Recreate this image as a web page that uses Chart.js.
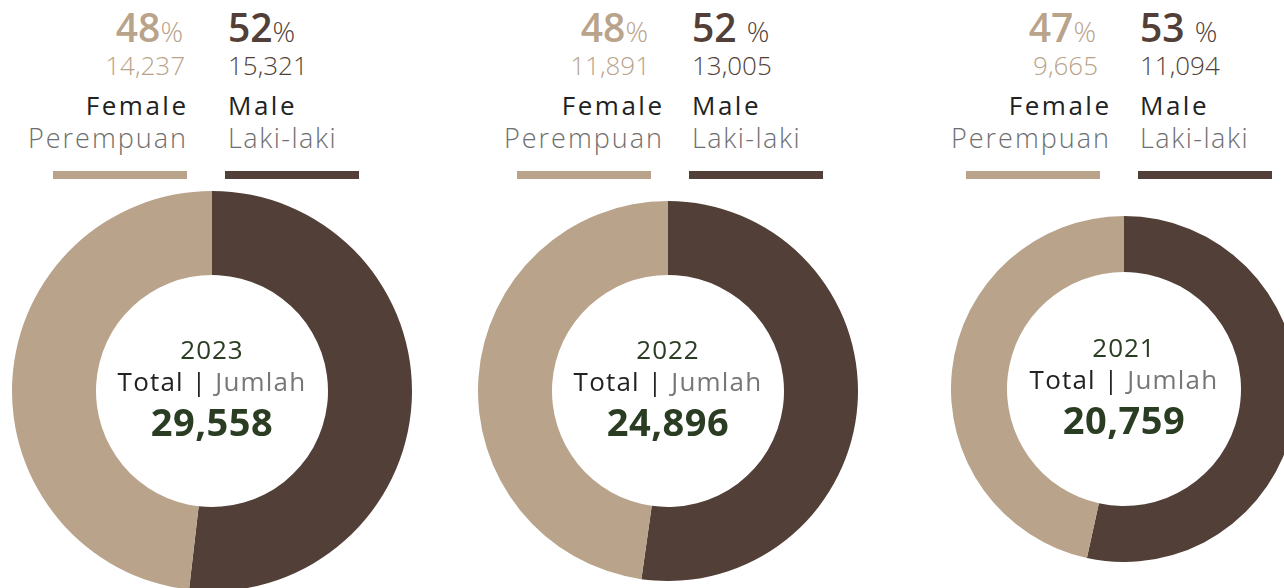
<!DOCTYPE html>
<html>
<head>
<meta charset="utf-8">
<script src="https://cdn.jsdelivr.net/npm/chart.js@4.4.1/dist/chart.umd.min.js"></script>
<style>
    html, body { margin: 0; padding: 0; background: #fff; }
    body { width: 1284px; height: 588px; overflow: hidden; position: relative; font-family: "Open Sans", sans-serif; }
    .t { position: absolute; white-space: nowrap; line-height: 1; }
    .key { position: absolute; height: 8px; }
    canvas { position: absolute; }
</style>
</head>
<body>
<script>
    'use strict';

    // data
    const years = ['2023', '2022', '2021'];
    const labels = ['Male', 'Female'];
    const maleCounts = [15321, 13005, 11094];
    const femaleCounts = [14237, 11891, 9665];
    const malePct = [52, 52, 53];
    const femalePct = [48, 48, 47];
    const malePctGap = ['', ' ', ' '];
    const totals = [29558, 24896, 20759];

    const MALE = '#523f37';
    const FEMALE = '#b9a38b';
    const GREEN = '#2a3d22';

    // layout of the three panels (pixels)
    const panels = [
        { cx: 212, cy: 391, r: 200, hole: 116, numRight: 183, lblRight: 186, maleLeft: 228, femKey: 53, maleKey: 225 },
        { cx: 668, cy: 391, r: 190, hole: 116, numRight: 648, lblRight: 662, maleLeft: 692, femKey: 517, maleKey: 689 },
        { cx: 1124, cy: 389, r: 173, hole: 117, numRight: 1096, lblRight: 1109, maleLeft: 1140, femKey: 966, maleKey: 1138 }
    ];

    function fmt(n) {
        return n.toString().replace(/\B(?=(\d{3})+(?!\d))/g, ',');
    }

    // places a line of text by its baseline
    function addText(html, baseline, size, opts) {
        const el = document.createElement('div');
        const ls = opts.ls || 0;
        el.className = 't';
        el.innerHTML = html;
        el.style.fontSize = size + 'px';
        el.style.top = (baseline - size * 0.888) + 'px';
        el.style.color = opts.color || '#222';
        el.style.fontWeight = opts.weight || 400;
        el.style.letterSpacing = ls + 'px';
        if (opts.right != null) {
            el.style.right = (1284 - opts.right - ls) + 'px';
            el.style.textAlign = 'right';
        } else {
            el.style.left = opts.left + 'px';
        }
        document.body.appendChild(el);
    }

    function addKey(left, color) {
        const el = document.createElement('div');
        el.className = 'key';
        el.style.left = left + 'px';
        el.style.top = '171px';
        el.style.width = '134px';
        el.style.background = color;
        document.body.appendChild(el);
    }

    const centerText = {
        id: 'centerText',
        afterDraw(chart, args, o) {
            const arc = chart.getDatasetMeta(0).data[0];
            if (!arc) return;
            const ctx = chart.ctx;
            const x = arc.x, y = arc.y;
            ctx.save();
            ctx.textBaseline = 'alphabetic';
            ctx.textAlign = 'center';

            ctx.letterSpacing = '1px';
            ctx.font = '400 26px "Open Sans"';
            ctx.fillStyle = GREEN;
            ctx.fillText(o.year, x, y - 32);

            const a = 'Total | ';
            const b = 'Jumlah';
            ctx.letterSpacing = '1.2px';
            ctx.font = '400 26px "Open Sans"';
            const wa = ctx.measureText(a).width;
            const wb = ctx.measureText(b).width;
            const sx = x - (wa + wb) / 2;
            ctx.textAlign = 'left';
            ctx.fillStyle = '#222';
            ctx.fillText(a, sx, y);
            ctx.fillStyle = '#777';
            ctx.fillText(b, sx + wa, y);

            ctx.textAlign = 'center';
            ctx.letterSpacing = '0.5px';
            ctx.font = '700 38px "Open Sans"';
            ctx.fillStyle = GREEN;
            ctx.fillText(o.total, x, y + 45);
            ctx.restore();
        }
    };

    panels.forEach(function(p, i) {
        // header
        const pctSpan = '<span style="font-size:28px;font-weight:300">%</span>';
        addText(femalePct[i] + pctSpan, 42, 39, { right: p.numRight, color: FEMALE, weight: 600 });
        addText(malePct[i] + malePctGap[i] + pctSpan, 42, 39, { left: p.maleLeft, color: MALE, weight: 600 });
        addText(fmt(femaleCounts[i]), 75, 26, { right: p.numRight + 2, color: FEMALE, weight: 300 });
        addText(fmt(maleCounts[i]), 75, 26, { left: p.maleLeft, color: MALE, weight: 300 });
        addText('Female', 115, 26, { right: p.lblRight, color: '#222', weight: 400, ls: 2.5 });
        addText('Male', 115, 26, { left: p.maleLeft, color: '#222', weight: 400, ls: 2.5 });
        addText('Perempuan', 148, 27, { right: p.lblRight, color: '#6e6e6e', weight: 300, ls: 2 });
        addText('Laki-laki', 148, 27, { left: p.maleLeft, color: '#6e6e6e', weight: 300, ls: 1.5 });
        addKey(p.femKey, FEMALE);
        addKey(p.maleKey, MALE);

        // doughnut
        const canvas = document.createElement('canvas');
        canvas.width = p.r * 2;
        canvas.height = p.r * 2;
        canvas.style.left = (p.cx - p.r) + 'px';
        canvas.style.top = (p.cy - p.r) + 'px';
        document.body.appendChild(canvas);

        new Chart(canvas.getContext('2d'), {
            type: 'doughnut',
            data: {
                labels: labels,
                datasets: [{
                    data: [maleCounts[i], femaleCounts[i]],
                    backgroundColor: [MALE, FEMALE],
                    borderWidth: 0
                }]
            },
            options: {
                responsive: false,
                animation: false,
                events: [],
                cutout: p.hole,
                layout: { padding: 0 },
                plugins: {
                    legend: { display: false },
                    tooltip: { enabled: false },
                    centerText: { year: years[i], total: fmt(totals[i]) }
                }
            },
            plugins: [centerText]
        });
    });
</script>
</body>
</html>
